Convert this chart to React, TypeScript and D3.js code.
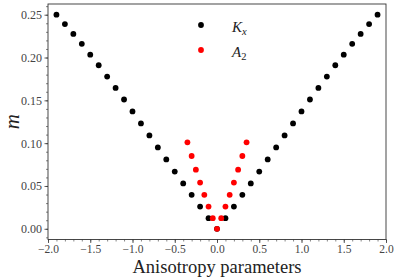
import * as d3 from 'd3';
import { useEffect, useRef } from 'react';

// K_x sweep (black)
const kxParam = [
  -1.9, -1.8, -1.7, -1.6, -1.5, -1.4, -1.3, -1.2, -1.1, -1.0,
  -0.9, -0.8, -0.7, -0.6, -0.5, -0.4, -0.3, -0.2, -0.1, 0.0,
  0.1, 0.2, 0.3, 0.4, 0.5, 0.6, 0.7, 0.8, 0.9, 1.0,
  1.1, 1.2, 1.3, 1.4, 1.5, 1.6, 1.7, 1.8, 1.9,
];
const kxM = [
  0.25, 0.239, 0.2275, 0.216, 0.2033, 0.191, 0.1777, 0.1645, 0.151, 0.137,
  0.123, 0.109, 0.095, 0.081, 0.0668, 0.053, 0.0397, 0.026, 0.0124, 0.0,
  0.0124, 0.026, 0.0397, 0.053, 0.0668, 0.081, 0.095, 0.109, 0.123, 0.137,
  0.151, 0.1645, 0.1777, 0.191, 0.2033, 0.216, 0.2275, 0.239, 0.25,
];

// A_2 sweep (red)
const a2Param = [
  -0.35, -0.3, -0.25, -0.2, -0.15, -0.1, -0.05, 0.0,
  0.05, 0.1, 0.15, 0.2, 0.25, 0.3, 0.35,
];
const a2M = [
  0.101, 0.085, 0.069, 0.054, 0.0397, 0.026, 0.0124, 0.0,
  0.0124, 0.026, 0.0397, 0.054, 0.069, 0.085, 0.101,
];

const xTicks = [-2.0, -1.5, -1.0, -0.5, 0.0, 0.5, 1.0, 1.5, 2.0];
const yTicks = [0.0, 0.05, 0.1, 0.15, 0.2, 0.25];

export default function App() {
  const ref = useRef<SVGSVGElement | null>(null);

  useEffect(() => {
    const svg = d3.select(ref.current);
    const width = 398;
    const height = 279;
    const plot = { left: 48, right: 386, top: 4, bottom: 239.5 };
    const serif = '"Liberation Serif", "DejaVu Serif", serif';

    svg.selectAll('*').remove();
    svg.attr('width', width).attr('height', height);

    const x = d3.scaleLinear().domain([-2, 2]).range([plot.left, plot.right]);
    const y = d3.scaleLinear().domain([-0.0125, 0.2625]).range([plot.bottom, plot.top]);

    // minor ticks
    svg.append('g')
      .attr('transform', `translate(0,${plot.bottom})`)
      .call(d3.axisBottom(x).tickValues(d3.range(-20, 21).map(i => i / 10)).tickSize(2).tickFormat(() => ''))
      .call(g => g.select('.domain').remove())
      .selectAll('line').attr('stroke', '#333').attr('stroke-width', 0.6);
    svg.append('g')
      .attr('transform', `translate(${plot.left},0)`)
      .call(d3.axisLeft(y).tickValues(d3.range(-1, 27).map(i => i / 100)).tickSize(2).tickFormat(() => ''))
      .call(g => g.select('.domain').remove())
      .selectAll('line').attr('stroke', '#333').attr('stroke-width', 0.6);

    // major ticks
    const xg = svg.append('g')
      .attr('transform', `translate(0,${plot.bottom})`)
      .call(d3.axisBottom(x).tickValues(xTicks).tickSize(3.5).tickPadding(2)
        .tickFormat(d => { const v = +d; return (v < 0 ? '\u2212' : '') + Math.abs(v).toFixed(1); }));
    xg.select('.domain').remove();
    xg.attr('font-family', serif).attr('font-size', 11.5);
    xg.selectAll('line').attr('stroke', '#333').attr('stroke-width', 0.8);
    xg.selectAll('text').style('font-family', serif).style('font-size', '11.5px').attr('fill', '#444');

    const yg = svg.append('g')
      .attr('transform', `translate(${plot.left},0)`)
      .call(d3.axisLeft(y).tickValues(yTicks).tickSize(3.5).tickPadding(2.5)
        .tickFormat(d => (+d).toFixed(2)));
    yg.select('.domain').remove();
    yg.attr('font-family', serif).attr('font-size', 12);
    yg.selectAll('line').attr('stroke', '#333').attr('stroke-width', 0.8);
    yg.selectAll('text').style('font-family', serif).style('font-size', '12px').attr('fill', '#444');

    // frame
    svg.append('rect')
      .attr('x', plot.left).attr('y', plot.top)
      .attr('width', plot.right - plot.left).attr('height', plot.bottom - plot.top)
      .attr('fill', 'none').attr('stroke', '#333').attr('stroke-width', 0.9);

    // K_x points
    svg.append('g').selectAll('circle')
      .data(kxParam.map((p, i) => [p, kxM[i]]))
      .join('circle')
      .attr('cx', d => x(d[0])).attr('cy', d => y(d[1])).attr('r', 2.9)
      .attr('fill', '#000');

    // A_2 points
    svg.append('g').selectAll('circle')
      .data(a2Param.map((p, i) => [p, a2M[i]]))
      .join('circle')
      .attr('cx', d => x(d[0])).attr('cy', d => y(d[1])).attr('r', 2.9)
      .attr('fill', '#ff0000');

    // legend
    const legend = [
      { color: '#000', main: 'K', sub: 'x', yy: 25 },
      { color: '#ff0000', main: 'A', sub: '2', yy: 50 },
    ];
    legend.forEach(l => {
      svg.append('circle').attr('cx', 201).attr('cy', l.yy).attr('r', 2.9).attr('fill', l.color);
      const t = svg.append('text')
        .attr('x', 232).attr('y', l.yy + 7)
        .style('font-family', serif).attr('font-size', 15).attr('fill', '#222');
      t.append('tspan').attr('font-style', 'italic').text(l.main);
      t.append('tspan').attr('font-style', l.sub === 'x' ? 'italic' : 'normal')
        .attr('font-size', 10.5).attr('dy', 2.5).text(l.sub);
    });

    // axis labels
    svg.append('text')
      .attr('x', (plot.left + plot.right) / 2).attr('y', 273)
      .attr('text-anchor', 'middle')
      .style('font-family', serif).attr('font-size', 18.5).attr('fill', '#222')
      .text('Anisotropy parameters');

    svg.append('text')
      .attr('transform', `translate(19,${(plot.top + plot.bottom) / 2}) rotate(-90)`)
      .attr('text-anchor', 'middle')
      .style('font-family', serif).attr('font-style', 'italic').attr('font-size', 21).attr('fill', '#222')
      .text('m');
  }, []);

  return <svg ref={ref} style={{ position: 'absolute', left: 0, top: 0 }}></svg>;
}
